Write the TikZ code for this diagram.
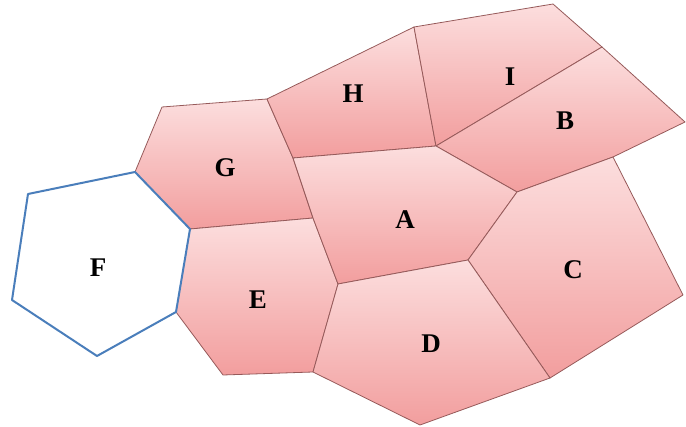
\documentclass[tikz,border=0pt]{standalone}
\usepackage{fontspec}
\setmainfont{Liberation Serif}
\definecolor{pinktop}{RGB}{252,222,222}
\definecolor{pinkbot}{RGB}{242,158,158}
\definecolor{edgec}{RGB}{150,90,90}
\definecolor{fblue}{RGB}{74,126,187}
\begin{document}
\begin{tikzpicture}[x=1pt,y=-1pt,
  cell/.style={top color=pinktop,bottom color=pinkbot,draw=edgec,line width=0.8pt,line join=round},
  fcell/.style={draw=fblue,line width=2pt,fill=white,line join=round},
  lbl/.style={font=\fontsize{27}{27}\selectfont\bfseries}]
\useasboundingbox (0,0) rectangle (686,427);
% vertices
\coordinate (f1) at (135,172);
\coordinate (f2) at (28,194);
\coordinate (f3) at (12,300);
\coordinate (f4) at (97,356);
\coordinate (f5) at (176,312);
\coordinate (f6) at (190,229);
\coordinate (g2) at (162,107);
\coordinate (g3) at (267,99);
\coordinate (g4) at (293,158);
\coordinate (g5) at (313,218);
\coordinate (e3) at (338,284);
\coordinate (e4) at (313,372);
\coordinate (e5) at (223,375);
\coordinate (h2) at (414,27);
\coordinate (h3) at (436,146);
\coordinate (i2) at (553,4);
\coordinate (i3) at (602,47);
\coordinate (b3) at (685,122);
\coordinate (b4) at (613,157);
\coordinate (b5) at (517,192);
\coordinate (a4) at (468,260);
\coordinate (c3) at (683,295);
\coordinate (c4) at (550,378);
\coordinate (d4) at (420,425);
% cells
\shade[cell] (f1) -- (g2) -- (g3) -- (g4) -- (g5) -- (f6) -- cycle;
\shade[cell] (f6) -- (g5) -- (e3) -- (e4) -- (e5) -- (f5) -- cycle;
\shade[cell] (g3) -- (h2) -- (h3) -- (g4) -- cycle;
\shade[cell] (h2) -- (i2) -- (i3) -- (h3) -- cycle;
\shade[cell] (h3) -- (i3) -- (b3) -- (b4) -- (b5) -- cycle;
\shade[cell] (g4) -- (h3) -- (b5) -- (a4) -- (e3) -- (g5) -- cycle;
\shade[cell] (b5) -- (b4) -- (c3) -- (c4) -- (a4) -- cycle;
\shade[cell] (e3) -- (a4) -- (c4) -- (d4) -- (e4) -- cycle;
\draw[fcell] (f1) -- (f2) -- (f3) -- (f4) -- (f5) -- (f6) -- cycle;
% labels
\node[lbl] (G) at (225,168) {G};
\node[lbl] (H) at (353,94) {H};
\node[lbl] (I) at (510,77) {I};
\node[lbl] (B) at (565,121) {B};
\node[lbl] (A) at (405,220) {A};
\node[lbl] (F) at (98,268) {F};
\node[lbl] (E) at (258,300) {E};
\node[lbl] (C) at (573,270) {C};
\node[lbl] (D) at (431,344) {D};
\end{tikzpicture}
\end{document}
